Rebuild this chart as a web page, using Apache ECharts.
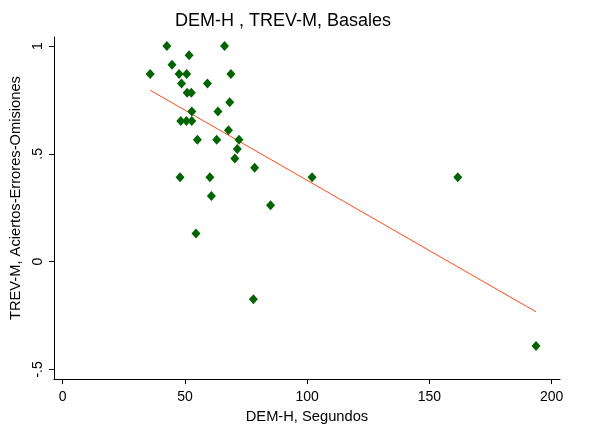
<!DOCTYPE html>
<html>
<head>
<meta charset="utf-8">
<script src="https://cdn.jsdelivr.net/npm/echarts@6/dist/echarts.min.js"></script>
<style>html,body{margin:0;padding:0;background:#fff;}#c{width:602px;height:429px;}</style>
</head>
<body>
<div id="c"></div>
<script>
// Data
const xValues = [35.8, 42.6, 44.7, 47.6, 50.7, 48.6, 51.7, 68.8, 66.2, 59.2, 50.9, 52.6, 68.3, 52.8, 63.5, 48.3, 50.6, 52.8, 67.8, 55.1, 63.0, 72.1, 71.4, 70.4, 78.5, 48.0, 60.2, 60.8, 85.0, 54.5, 78.0, 102.0, 161.6, 193.6];
const yValues = [0.870, 1.0, 0.913, 0.870, 0.870, 0.826, 0.957, 0.870, 1.0, 0.826, 0.783, 0.783, 0.739, 0.696, 0.696, 0.652, 0.652, 0.652, 0.609, 0.565, 0.565, 0.565, 0.522, 0.478, 0.435, 0.391, 0.391, 0.304, 0.261, 0.130, -0.174, 0.391, 0.391, -0.391];
const fitX = [35.8, 193.6];
const fitY = [0.795, -0.233];
const xTicks = [0, 50, 100, 150, 200];
const yTicks = [-0.5, 0, 0.5, 1];
const yTickLabels = ['-.5', '0', '.5', '1'];
const titleText = 'DEM-H , TREV-M, Basales';
const xName = 'DEM-H, Segundos';
const yName = 'TREV-M, Aciertos-Errores-Omisiones';

const FONT = '"Liberation Sans", Arial, sans-serif';
const scatterData = xValues.map((x, i) => [x, yValues[i]]);
const fitData = fitX.map((x, i) => [x, fitY[i]]);

const chart = echarts.init(document.getElementById('c'), null, {renderer: 'canvas'});
chart.setOption({
  animation: false,
  backgroundColor: '#fff',
  title: {
    text: titleText,
    left: 175, top: 12, padding: 0,
    textStyle: {fontFamily: FONT, fontSize: 18, fontWeight: 'normal', color: '#000'}
  },
  grid: {left: 53, right: 42, top: 37, bottom: 45, containLabel: false},
  xAxis: {
    type: 'value', min: -3.6, max: 203.4,
    name: xName, nameLocation: 'middle', nameGap: 28,
    nameTextStyle: {fontFamily: FONT, fontSize: 14.7, color: '#000'},
    axisLine: {show: true, onZero: false, lineStyle: {color: '#000', width: 1}},
    axisTick: {show: true, customValues: xTicks, length: 5, inside: false, lineStyle: {color: '#000'}},
    axisLabel: {customValues: xTicks, margin: 11, fontFamily: FONT, fontSize: 14, color: '#000'},
    splitLine: {show: false}
  },
  yAxis: {
    type: 'value', min: -0.545, max: 1.042,
    name: yName, nameLocation: 'middle', nameGap: 27, nameRotate: 90,
    nameTextStyle: {fontFamily: FONT, fontSize: 14.7, color: '#000', padding: [0, 0, 0, 20]},
    axisLine: {show: true, onZero: false, lineStyle: {color: '#000', width: 1}},
    axisTick: {show: true, customValues: yTicks, length: 5, inside: false, lineStyle: {color: '#000'}},
    axisLabel: {
      customValues: yTicks, rotate: 90, margin: 9,
      fontFamily: FONT, fontSize: 14, color: '#000',
      formatter: function (v) {
        const i = yTicks.findIndex(t => Math.abs(t - v) < 1e-9);
        return i >= 0 ? yTickLabels[i] : '';
      }
    },
    splitLine: {show: false}
  },
  series: [
    {
      type: 'line', data: fitData, symbol: 'none', silent: true,
      lineStyle: {color: '#ff4a1a', width: 1}, z: 1
    },
    {
      type: 'scatter', data: scatterData, symbol: 'diamond', symbolSize: [9, 10],
      itemStyle: {color: '#006400', opacity: 1}, z: 2
    }
  ]
});
</script>
</body>
</html>
